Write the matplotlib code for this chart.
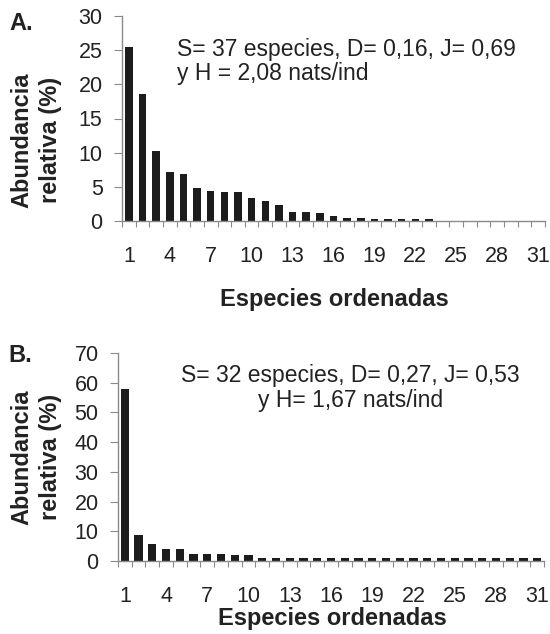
import matplotlib
matplotlib.use("Agg")
import matplotlib.pyplot as plt
import numpy as np
from matplotlib.ticker import FixedLocator

plt.rcParams['font.family'] = ['Liberation Sans', 'DejaVu Sans']

# Panel A data (relative abundance %, ranked species)
species_a = list(range(1, 24))
abund_a = [25.5, 18.6, 10.2, 7.1, 6.9, 4.8, 4.4, 4.2, 4.2, 3.4, 2.9, 2.3,
           1.3, 1.3, 1.1, 0.7, 0.5, 0.5, 0.3, 0.3, 0.3, 0.3, 0.3]
# Panel B data
species_b = list(range(1, 32))
abund_b = [57.8, 8.6, 5.8, 3.9, 3.9, 2.5, 2.5, 2.5, 1.9, 1.9] + [0.9] * 21

xticks = list(range(1, 32, 3))
yticks_a = [0, 5, 10, 15, 20, 25, 30]
yticks_b = [0, 10, 20, 30, 40, 50, 60, 70]

text_a = "S= 37 especies, D= 0,16, J= 0,69\ny H = 2,08 nats/ind"
text_b = "S= 32 especies, D= 0,27, J= 0,53\ny H= 1,67 nats/ind"

W, H = 550, 634
fig = plt.figure(figsize=(W / 100, H / 100), dpi=100)

def px_axes(l, t, r, b):
    return fig.add_axes([l / W, 1 - b / H, (r - l) / W, (b - t) / H])

def style(ax, yticks, ymax, pad_x):
    ax.set_xlim(0.5, 31.5)
    ax.set_ylim(0, ymax)
    for s in ['top', 'right']:
        ax.spines[s].set_visible(False)
    for s in ['left', 'bottom']:
        ax.spines[s].set_color('#8a8a8a')
        ax.spines[s].set_linewidth(1.0)
    ax.set_yticks(yticks)
    ax.set_xticks(xticks)
    ax.xaxis.set_minor_locator(FixedLocator(np.arange(0.5, 32, 1)))
    ax.tick_params(axis='x', which='major', length=0, pad=pad_x, labelsize=15.5, colors='#222222')
    ax.tick_params(axis='x', which='minor', length=4, width=0.8, color='#8a8a8a', direction='out')
    ax.tick_params(axis='y', which='major', length=6, width=0.8, color='#8a8a8a', pad=8, labelsize=15.5, labelcolor='#222222')

bar_color = '#1c1c1c'

axA = px_axes(122, 16, 545, 221)
axA.bar(species_a, abund_a, width=0.55, color=bar_color)
style(axA, yticks_a, 30, 18)
axA.text(0.13, 0.895, text_a, transform=axA.transAxes, fontsize=16.5, va='top', ha='left',
         color='#222222', linespacing=1.1)

axB = px_axes(118, 353, 544, 561)
axB.bar(species_b, abund_b, width=0.6, color=bar_color)
style(axB, yticks_b, 70, 18)
axB.text(0.545, 0.945, text_b, transform=axB.transAxes, fontsize=16.5, va='top', ha='center',
         color='#222222', linespacing=1.1)

lab_kw = dict(fontsize=17, fontweight='bold', color='#222222')
fig.text(21 / W, 1 - 24 / H, "A.", ha='center', va='center', **lab_kw)
fig.text(20 / W, 1 - 356 / H, "B.", ha='center', va='center', **lab_kw)
fig.text(36 / W, 1 - 140 / H, "Abundancia\nrelativa (%)", rotation=90, ha='center', va='center',
         linespacing=1.3, **lab_kw)
fig.text(36 / W, 1 - 457 / H, "Abundancia\nrelativa (%)", rotation=90, ha='center', va='center',
         linespacing=1.3, **lab_kw)
fig.text(334 / W, 1 - 300 / H, "Especies ordenadas", ha='center', va='center', **lab_kw)
fig.text(332 / W, 1 - 619 / H, "Especies ordenadas", ha='center', va='center', **lab_kw)

fig.savefig("out.png", dpi=100, facecolor='white')
